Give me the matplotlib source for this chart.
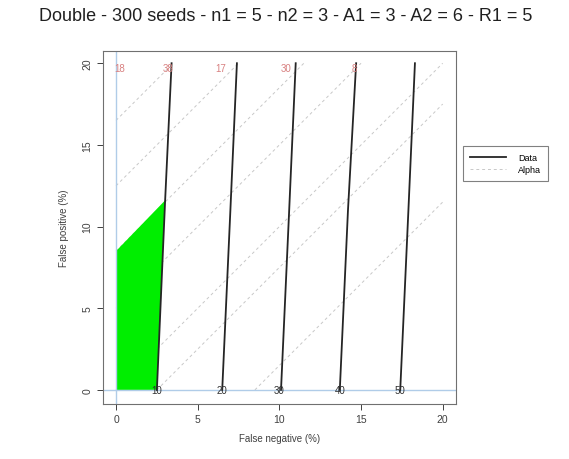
import numpy as np
import matplotlib.pyplot as plt

plt.rcParams['font.family'] = ['Liberation Sans', 'DejaVu Sans']

# Data lines (false negative %, false positive %)
data_x = [[2.5, 3.0, 3.4], [6.5, 7.0, 7.4], [10.1, 10.6, 11.0],
          [13.7, 14.2, 14.7], [17.4, 17.9, 18.3]]
data_y = [[0, 11.5, 20], [0, 11.0, 20], [0, 11.0, 20],
          [0, 11.0, 20], [0, 11.0, 20]]

# labels at the bottom / top of the lines
bottom_labels = ["10", "20", "30", "40", "50"]
bottom_x = [2.5, 6.5, 10.0, 13.7, 17.4]
top_labels = ["18", "38", "17", "30", "8"]
top_x = [0.2, 3.2, 6.4, 10.4, 14.6]

# alpha lines, y = x + c
alpha_c = [16.5, 12.5, 8.5, 5.0, 0.0, -2.5, -8.5]

# green acceptance region
green_x = [0, 2.5, 3.0, 0]
green_y = [0, 0, 11.6, 8.5]

fig = plt.figure(figsize=(5.69, 4.6), dpi=100)
ax = fig.add_axes([0.181, 0.120, 0.620, 0.767])

for i, c in enumerate(alpha_c):
    x0 = max(0, -c)
    x1 = min(20, 20 - c)
    ax.plot([x0, x1], [x0 + c, x1 + c], color='#c8c8c8', lw=0.7,
            ls=(0, (3, 3)), zorder=1, label='Alpha' if i == 0 else None)

ax.fill(green_x, green_y, color='#00ee00', lw=0, zorder=2)
ax.axvline(0, color='#b0cce8', lw=1, zorder=2)
ax.axhline(0, color='#b0cce8', lw=1, zorder=2)

for i in range(len(data_x)):
    ax.plot(data_x[i], data_y[i], color='#252525', lw=1.3, zorder=3,
            label='Data' if i == 0 else None)

for lab, x in zip(bottom_labels, bottom_x):
    ax.text(x, 0, lab, fontsize=7, ha='center', va='center', color='#303030', zorder=4)
for lab, x in zip(top_labels, top_x):
    ax.text(x, 19.7, lab, fontsize=7, ha='center', va='center', color='#d88080', zorder=4)

ax.set_xlim(-0.8, 20.8)
ax.set_ylim(-0.85, 20.75)
ax.set_xticks([0, 5, 10, 15, 20])
ax.set_yticks([0, 5, 10, 15, 20])
ax.tick_params(labelsize=7.5, colors='#404040', length=4, width=0.7)
for lbl in ax.get_yticklabels():
    lbl.set_rotation(90)
    lbl.set_va('center')
for s in ax.spines.values():
    s.set_color('#707070')
    s.set_linewidth(0.8)

ax.set_xlabel("False negative (%)", fontsize=7, color='#404040', labelpad=6)
ax.set_ylabel("False positive (%)", fontsize=7, color='#404040', labelpad=10)

fig.suptitle("Double - 300 seeds - n1 = 5 - n2 = 3 - A1 = 3 - A2 = 6 - R1 = 5",
             fontsize=13, x=0.502, y=0.982, color='#202020')

h, l = ax.get_legend_handles_labels()
order = [l.index('Data'), l.index('Alpha')]
leg = fig.legend([h[k] for k in order], [l[k] for k in order],
                 loc='upper left', bbox_to_anchor=(0.806, 0.69),
                 fontsize=6.5, fancybox=False, framealpha=1, edgecolor='#808080',
                 handlelength=4, handletextpad=1.3, borderpad=0.8,
                 labelspacing=0.3)
leg.get_frame().set_linewidth(0.8)

fig.savefig("out.png", dpi=100)
